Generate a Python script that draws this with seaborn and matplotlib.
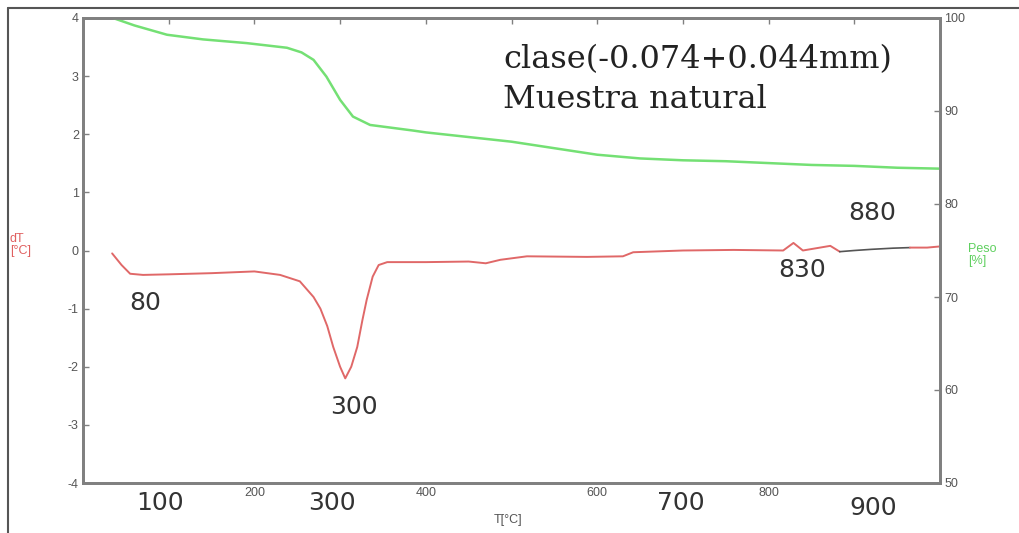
import matplotlib
matplotlib.use("Agg")
import matplotlib.pyplot as plt
import seaborn as sns

sns.set_style("white")
plt.rcParams["font.family"] = ["Liberation Sans", "DejaVu Sans"]
plt.rcParams["axes.unicode_minus"] = False

# TG curve (weight %)
t_peso = [35, 60, 98, 140, 191, 238, 255, 269, 284, 300, 315, 335, 360, 385,
          400, 450, 500, 550, 600, 650, 700, 750, 800, 850, 900, 950, 1000]
peso = [100.0, 99.2, 98.2, 97.7, 97.3, 96.8, 96.3, 95.5, 93.7, 91.2, 89.4,
        88.5, 88.2, 87.9, 87.7, 87.2, 86.7, 86.0, 85.3, 84.9, 84.7, 84.6, 84.4,
        84.2, 84.1, 83.9, 83.8]

# DTA curve (dT)
t_dt = [34, 45, 55, 70, 100, 150, 200, 230, 253, 269, 277, 285, 292, 300, 306,
        313, 320, 326, 331, 338, 345, 355, 400, 450, 470, 487, 518, 588, 630,
        642, 700, 759, 817, 829, 840, 860, 872, 883]
dt = [-0.05, -0.25, -0.40, -0.42, -0.41, -0.39, -0.36, -0.42, -0.53, -0.80,
      -1.00, -1.30, -1.66, -2.00, -2.20, -2.00, -1.66, -1.20, -0.85, -0.45,
      -0.25, -0.20, -0.20, -0.19, -0.22, -0.16, -0.10, -0.11, -0.10, -0.03,
      0.0, 0.01, 0.0, 0.13, 0.0, 0.05, 0.08, -0.02]
t_dt_end = [883, 900, 920, 945, 965]
dt_end = [-0.02, 0.0, 0.02, 0.04, 0.05]
t_dt_tail = [965, 985, 1000]
dt_tail = [0.05, 0.05, 0.07]

big_ticks = [100, 300, 700, 900]
big_ticks_pos = [90, 290, 697, 922]
small_ticks = [200, 400, 600, 800]
peaks = ["80", "300", "830", "880"]
peaks_x = [72, 316, 839, 921]
peaks_y = [-0.91, -2.69, -0.34, 0.65]

fig = plt.figure(figsize=(10.19, 5.33), dpi=100)
# outer frame (left and top edges)
fig.add_artist(plt.Line2D([0.008, 0.008], [0.0, 0.985], color="#555555", lw=1.5))
fig.add_artist(plt.Line2D([0.008, 1.0], [0.985, 0.985], color="#555555", lw=1.5))

ax = fig.add_axes([83 / 1019, 1 - 483 / 533, (940 - 83) / 1019, (483 - 18) / 533])
ax2 = ax.twinx()

sns.lineplot(x=t_dt, y=dt, ax=ax, color="#e06868", lw=1.4)
sns.lineplot(x=t_dt_end, y=dt_end, ax=ax, color="#555555", lw=1.2)
sns.lineplot(x=t_dt_tail, y=dt_tail, ax=ax, color="#e06868", lw=1.4)
sns.lineplot(x=t_peso, y=peso, ax=ax2, color="#74e074", lw=1.8)

ax.set_xlim(0, 1000)
ax.set_ylim(-4, 4)
ax2.set_ylim(50, 100)
ax.set_yticks(range(-4, 5))
ax2.set_yticks(range(50, 101, 10))
ax.set_xticks(range(100, 1000, 100))
ax.set_xticklabels([str(v) if v in small_ticks else "" for v in range(100, 1000, 100)])

for a in (ax, ax2):
    for s in a.spines.values():
        s.set_color("#808080")
        s.set_linewidth(2)
ax.tick_params(axis="both", direction="in", length=4, width=1, colors="#808080",
               labelcolor="#555555", labelsize=9, top=True, pad=3)
ax2.tick_params(axis="y", direction="in", length=4, width=1, colors="#808080",
                labelcolor="#555555", labelsize=9, pad=3)
ax.set_xlabel("")
ax.set_ylabel("")
ax2.set_ylabel("")

# axis labels
fig.text(508 / 1019, 1 - 520 / 533, "T[°C]", fontsize=9,
         color="#555555", ha="center", va="center")
fig.text(10 / 1019, 1 - 245 / 533, "dT\n[°C]", fontsize=9, color="#e06060",
         ha="left", va="center", linespacing=0.9)
fig.text(968 / 1019, 1 - 255 / 533, "Peso\n[%]", fontsize=9, color="#60d060",
         ha="left", va="center", linespacing=0.9)

# large x labels
for v, p in zip(big_ticks, big_ticks_pos):
    off = -25 if v == 900 else -20
    ax.annotate(str(v), xy=(p, 0), xycoords=("data", "axes fraction"),
                xytext=(0, off * 0.72), textcoords="offset points", ha="center",
                va="center", fontsize=18, family="DejaVu Sans", color="#333333")

# peak labels
for lab, px, py in zip(peaks, peaks_x, peaks_y):
    ax.text(px, py, lab, fontsize=18, family="DejaVu Sans", color="#333333",
            ha="center", va="center")

fig.text(503 / 1019, 1 - 68 / 533, "clase(-0.074+0.044mm)", fontsize=23,
         family="DejaVu Serif", color="#222222", ha="left", va="baseline")
fig.text(503 / 1019, 1 - 108 / 533, "Muestra natural", fontsize=23,
         family="DejaVu Serif", color="#222222", ha="left", va="baseline")

plt.savefig("out.png", dpi=100)
